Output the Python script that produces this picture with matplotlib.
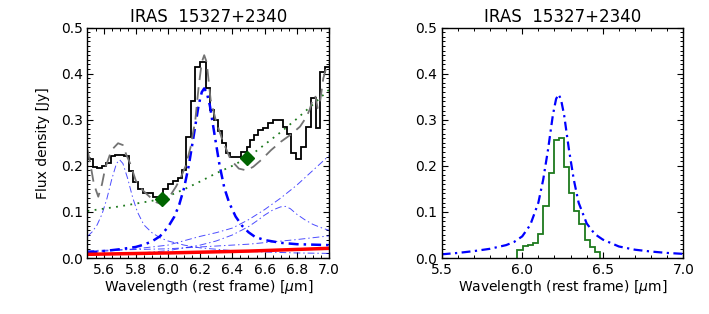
import matplotlib
matplotlib.use('Agg')
import matplotlib.pyplot as plt
from matplotlib.ticker import MultipleLocator

# ---- left panel: observed spectrum (histogram) ----
spec_edges = [5.500, 5.532, 5.561, 5.588, 5.615, 5.644, 5.672, 5.700, 5.729, 5.760,
              5.785, 5.816, 5.847, 5.878, 5.909, 5.940, 5.971, 6.000, 6.030, 6.060,
              6.088, 6.114, 6.140, 6.170, 6.200, 6.234, 6.261, 6.286, 6.313, 6.335,
              6.358, 6.385, 6.427, 6.455, 6.488, 6.509, 6.534, 6.561, 6.590, 6.623,
              6.654, 6.685, 6.712, 6.737, 6.764, 6.795, 6.826, 6.857, 6.888, 6.919,
              6.944, 6.975, 7.010]
spec_flux = [0.215, 0.198, 0.195, 0.199, 0.206, 0.222, 0.224, 0.224, 0.221, 0.188,
             0.165, 0.150, 0.142, 0.140, 0.132, 0.128, 0.150, 0.160, 0.166, 0.173,
             0.190, 0.263, 0.340, 0.415, 0.426, 0.368, 0.322, 0.300, 0.275, 0.250,
             0.228, 0.220, 0.220, 0.231, 0.241, 0.256, 0.266, 0.278, 0.282, 0.292,
             0.299, 0.299, 0.285, 0.268, 0.227, 0.215, 0.240, 0.285, 0.348, 0.281,
             0.404, 0.415]

# total model (grey dashed)
model_wl = [5.50, 5.52, 5.54, 5.567, 5.59, 5.61, 5.64, 5.66, 5.69, 5.72, 5.74, 5.765,
            5.80, 5.84, 5.87, 5.92, 5.95, 5.98, 6.00, 6.05, 6.08, 6.11, 6.14, 6.17,
            6.19, 6.21, 6.225, 6.24, 6.25, 6.265, 6.296, 6.338, 6.39, 6.44, 6.488,
            6.53, 6.58, 6.64, 6.70, 6.76, 6.82, 6.86, 6.88, 6.90, 6.915, 6.93, 6.945,
            6.965, 6.985, 7.00]
model_flux = [0.235, 0.200, 0.160, 0.133, 0.160, 0.195, 0.225, 0.238, 0.249, 0.245,
              0.225, 0.205, 0.168, 0.148, 0.138, 0.122, 0.118, 0.120, 0.128, 0.155,
              0.175, 0.200, 0.240, 0.300, 0.370, 0.425, 0.440, 0.425, 0.393, 0.343,
              0.300, 0.256, 0.213, 0.194, 0.190, 0.198, 0.213, 0.234, 0.252, 0.267,
              0.285, 0.306, 0.322, 0.345, 0.352, 0.325, 0.340, 0.390, 0.415, 0.425]

# continuum (green dotted)
cont_wl = [5.5, 5.6, 5.7, 5.8, 5.9, 6.0, 6.1, 6.2, 6.3, 6.4, 6.5, 6.6, 6.7, 6.8, 6.9, 7.0]
cont_flux = [0.102, 0.107, 0.112, 0.118, 0.124, 0.134, 0.149, 0.166, 0.184, 0.200,
             0.219, 0.246, 0.273, 0.302, 0.333, 0.365]

# anchor points (diamonds)
anchor_wl = [5.96, 6.49]
anchor_flux = [0.128, 0.217]

# 6.2 um feature (thick blue dash-dot)
f62_wl = [5.50, 5.60, 5.70, 5.80, 5.85, 5.90, 5.95, 6.00, 6.04, 6.07, 6.10, 6.13,
          6.16, 6.19, 6.21, 6.225, 6.24, 6.26, 6.29, 6.32, 6.35, 6.38, 6.42, 6.46,
          6.50, 6.54, 6.60, 6.70, 6.80, 6.90, 7.00]
f62_flux = [0.012, 0.015, 0.019, 0.024, 0.029, 0.036, 0.047, 0.067, 0.090, 0.116,
            0.152, 0.202, 0.266, 0.331, 0.360, 0.368, 0.360, 0.331, 0.266, 0.202,
            0.152, 0.120, 0.090, 0.070, 0.056, 0.046, 0.039, 0.033, 0.030, 0.029, 0.028]

# other features (thin blue dash-dot)
f57_wl = [5.50, 5.53, 5.56, 5.59, 5.62, 5.65, 5.68, 5.70, 5.72, 5.75, 5.78, 5.81,
          5.85, 5.90, 5.95, 6.00, 6.10, 6.20, 6.40, 6.60, 6.80, 7.00]
f57_flux = [0.047, 0.057, 0.072, 0.095, 0.128, 0.170, 0.205, 0.213, 0.205, 0.172,
            0.132, 0.100, 0.072, 0.055, 0.044, 0.037, 0.028, 0.022, 0.016, 0.013,
            0.011, 0.010]
f67_wl = [5.50, 5.80, 6.00, 6.20, 6.30, 6.40, 6.50, 6.55, 6.60, 6.65, 6.70, 6.73,
          6.76, 6.80, 6.85, 6.90, 6.95, 7.00]
f67_flux = [0.006, 0.010, 0.016, 0.028, 0.037, 0.050, 0.068, 0.080, 0.093, 0.104,
            0.111, 0.112, 0.107, 0.095, 0.083, 0.073, 0.066, 0.060]
f77_wl = [5.5, 5.8, 6.0, 6.2, 6.3, 6.4, 6.5, 6.6, 6.7, 6.8, 6.9, 7.0]
f77_flux = [0.012, 0.020, 0.028, 0.047, 0.055, 0.065, 0.083, 0.105, 0.130, 0.158,
            0.190, 0.222]
fbase_wl = [5.5, 6.0, 6.5, 6.8, 7.0]
fbase_flux = [0.016, 0.020, 0.030, 0.040, 0.048]

# stellar baseline (red)
red_wl = [5.5, 6.0, 6.5, 7.0]
red_flux = [0.008, 0.011, 0.015, 0.021]

# ---- right panel ----
pah_edges = [5.970, 6.002, 6.034, 6.066, 6.099, 6.131, 6.163, 6.195, 6.227, 6.259,
             6.291, 6.323, 6.355, 6.387, 6.420, 6.452, 6.484]
pah_flux = [0.018, 0.026, 0.028, 0.032, 0.052, 0.113, 0.185, 0.255, 0.260, 0.197,
            0.142, 0.102, 0.073, 0.038, 0.024, 0.012]
prof_wl = [5.50, 5.60, 5.70, 5.80, 5.90, 5.95, 6.00, 6.05, 6.10, 6.13, 6.16, 6.19,
           6.21, 6.225, 6.24, 6.26, 6.29, 6.32, 6.35, 6.40, 6.45, 6.50, 6.60, 6.70,
           6.80, 6.90, 7.00]
prof_flux = [0.008, 0.011, 0.015, 0.020, 0.028, 0.035, 0.047, 0.072, 0.120, 0.170,
             0.235, 0.310, 0.345, 0.355, 0.345, 0.310, 0.235, 0.170, 0.120, 0.075,
             0.052, 0.040, 0.025, 0.018, 0.014, 0.011, 0.009]

title = 'IRAS  15327+2340'
xlab = r'Wavelength (rest frame) [$\mu$m]'

plt.rcParams['font.size'] = 10
fig = plt.figure(figsize=(7.09, 3.14), dpi=100)
ax1 = fig.add_axes([0.1234, 0.1783, 0.3406, 0.734])
ax2 = fig.add_axes([0.623, 0.1783, 0.3408, 0.734])

thin = dict(color='blue', lw=0.7, alpha=0.7, dashes=(7, 3, 1.5, 3))
for wl, fl in [(f57_wl, f57_flux), (f67_wl, f67_flux), (f77_wl, f77_flux),
               (fbase_wl, fbase_flux)]:
    ax1.plot(wl, fl, **thin)
ax1.plot(f62_wl, f62_flux, color='blue', lw=1.8, dashes=(4, 2, 1, 2))
ax1.plot(red_wl, red_flux, color='red', lw=2.5)
ax1.plot(cont_wl, cont_flux, color='#1e7a1e', lw=1.3, dashes=(1, 3))
ax1.stairs(spec_flux, spec_edges, baseline=None, color='black', lw=1.3)
ax1.plot(model_wl, model_flux, color='0.45', lw=1.3, dashes=(7, 4))
ax1.plot(anchor_wl, anchor_flux, 'D', color='#006400', ms=7)
ax1.set_xlim(5.5, 7.0)
ax1.xaxis.set_major_locator(MultipleLocator(0.2))
ax1.xaxis.set_minor_locator(MultipleLocator(0.05))
ax1.set_ylabel('Flux density [Jy]', labelpad=8)

ax2.stairs(pah_flux, pah_edges, baseline=0, color='#1e7a1e', lw=1.3)
ax2.plot(prof_wl, prof_flux, color='blue', lw=1.6, dashes=(4, 2, 1, 2))
ax2.set_xlim(5.5, 7.0)
ax2.xaxis.set_major_locator(MultipleLocator(0.5))
ax2.xaxis.set_minor_locator(MultipleLocator(0.1))

for ax in (ax1, ax2):
    ax.set_ylim(0.0, 0.5)
    ax.yaxis.set_major_locator(MultipleLocator(0.1))
    ax.yaxis.set_minor_locator(MultipleLocator(0.01))
    ax.tick_params(which='both', direction='in', top=True, right=True)
    ax.tick_params(which='major', length=4, width=0.8)
    ax.tick_params(which='minor', length=2, width=0.7)
    ax.set_title(title, fontsize=12, pad=4)
    ax.set_xlabel(xlab, labelpad=1)
    for s in ax.spines.values():
        s.set_linewidth(1.0)

fig.savefig('out.png', dpi=100)
